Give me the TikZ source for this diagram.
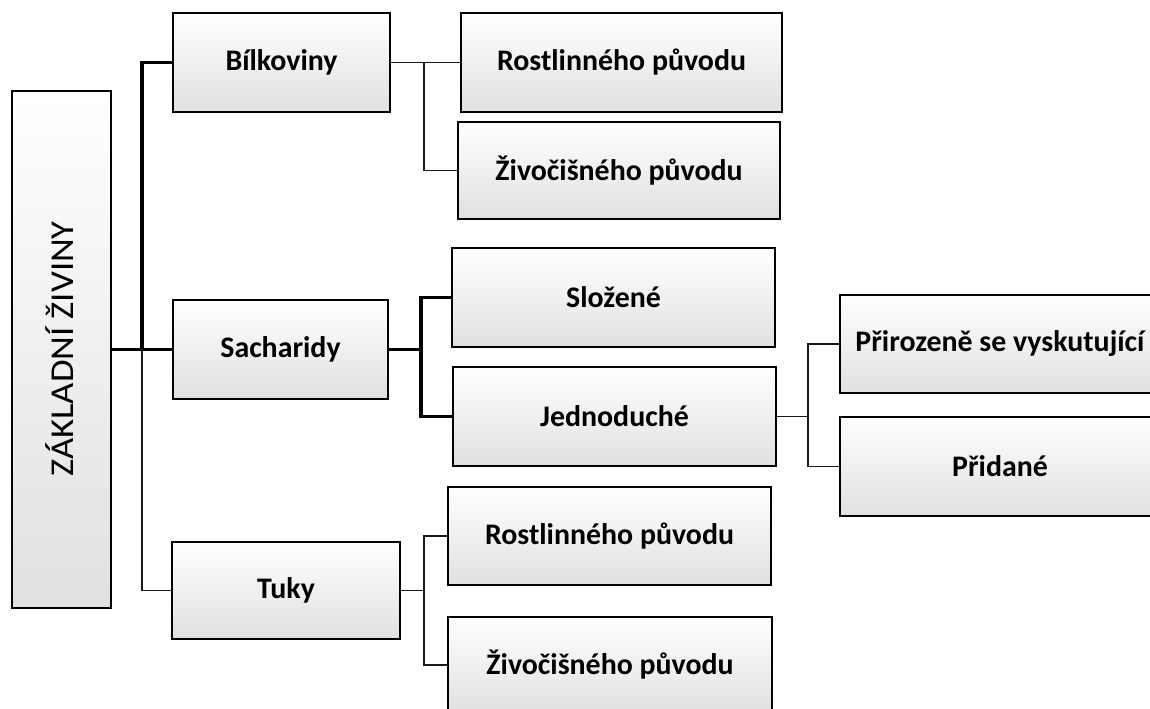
\documentclass[tikz,border=0pt]{standalone}
\usepackage{fontspec}
\setmainfont{Carlito}
\begin{document}
\begin{tikzpicture}[x=0.75pt,y=-0.75pt,
  bx/.style 2 args={draw=black, line width=1.5pt, inner sep=0pt,
    minimum width=#1*0.75pt, minimum height=#2*0.75pt,
    top color=white, middle color=white, bottom color=black!12,
    font=\fontsize{22.4}{26}\selectfont\bfseries, align=center},
  rootlbl/.style={font=\fontsize{25}{30}\selectfont, inner sep=0pt},
  thickc/.style={line width=2.4pt, draw=black},
  thinc/.style={line width=1.1pt, draw=black!90}]
\useasboundingbox (0,0) rectangle (1150,709);
\clip (0,0) rectangle (1150,709);

% nodes
\node[bx={99}{516}] (root) at (61.5,349.5) {};
\node[rotate=90, rootlbl] (rootlabel) at (60,349) {\scalebox{1.1}[1]{ZÁKLADNÍ ŽIVINY}};

\node[bx={217}{99}] (bil)   at (281.5,62.5)  {Bílkoviny};
\node[bx={321}{99}] (rost1) at (621.5,62.5)  {Rostlinného původu};
\node[bx={322}{97}] (ziv1)  at (619,170.5)   {Živočišného původu};

\node[bx={215}{98}] (sach)  at (280.5,349.5) {Sacharidy};
\node[bx={323}{99}] (slo)   at (613.5,297.5) {Složené};
\node[bx={323}{99}] (jed)   at (614.5,416.5) {Jednoduché};
\node[bx={320}{98}] (pri)   at (1000,344)    {Přirozeně se vyskutující};
\node[bx={320}{99}] (prid)  at (1000,466.5)  {Přidané};

\node[bx={228}{97}] (tuky)  at (286,590.5)   {Tuky};
\node[bx={323}{98}] (rost2) at (609.5,536)   {Rostlinného původu};
\node[bx={324}{96}] (ziv2)  at (610,665)     {Živočišného původu};

% hub coordinates
\coordinate (h1) at (142,349.5);
\coordinate (h2) at (424,62.5);
\coordinate (h3) at (421,349.5);
\coordinate (h4) at (808,416.5);
\coordinate (h5) at (424,590.5);

% connectors
\draw[thickc] (root.east) -- (sach.west);
\draw[thickc] (h1) |- (bil.west);
\draw[thinc] (h1) |- (tuky.west);

\draw[thinc] (bil.east) -- (rost1.west);
\draw[thinc] (h2) |- (ziv1.west);

\draw[thickc] (sach.east) -- (h3);
\draw[thickc] (slo.west) -| (h3) |- (jed.west);

\draw[thinc] (jed.east) -- (h4);
\draw[thinc] (pri.west) -| (h4) |- (prid.west);

\draw[thinc] (tuky.east) -- (h5);
\draw[thinc] (rost2.west) -| (h5) |- (ziv2.west);
\end{tikzpicture}
\end{document}
